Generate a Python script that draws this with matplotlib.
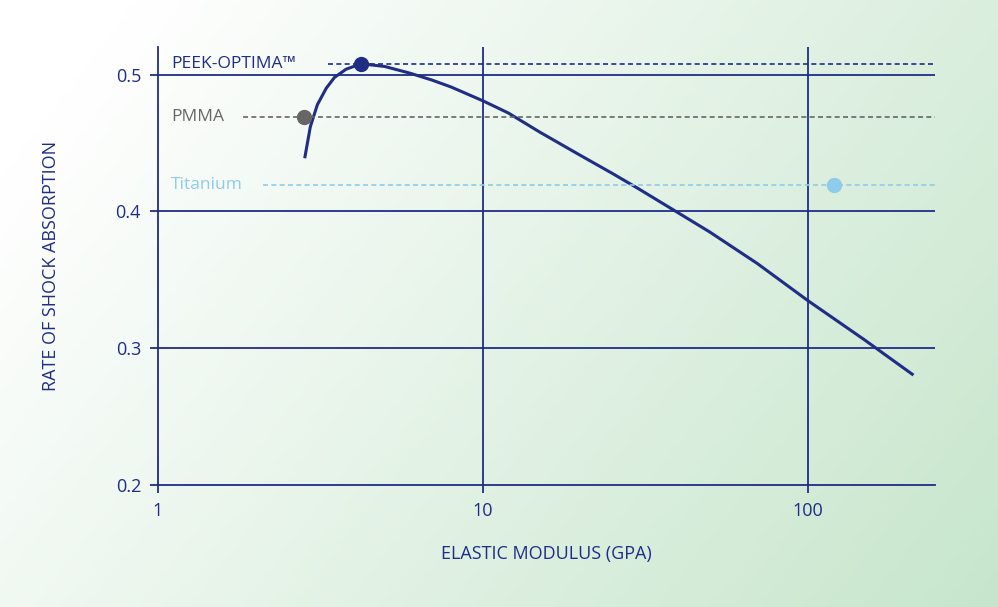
import numpy as np
import matplotlib
matplotlib.use("Agg")
import matplotlib.pyplot as plt

curve_x = [2.84, 2.95, 3.1, 3.3, 3.5, 3.8, 4.23, 5, 6, 7, 8, 10, 12, 15, 20, 25, 30, 40, 50, 70, 100, 150, 210]
curve_y = [0.440, 0.462, 0.478, 0.490, 0.498, 0.504, 0.508, 0.506, 0.501, 0.496, 0.491, 0.481,
           0.472, 0.458, 0.441, 0.428, 0.417, 0.399, 0.385, 0.362, 0.335, 0.306, 0.281]
materials = ["PEEK-OPTIMA™", "PMMA", "Titanium"]
mat_x = [4.23, 2.82, 121]
mat_y = [0.508, 0.469, 0.419]
mat_colors = ["#1f2d86", "#666666", "#8fcbea"]

navy = "#1f2d86"
fig = plt.figure(figsize=(9.98, 6.07), dpi=100)
bg = fig.add_axes([0, 0, 1, 1], zorder=-10)
gx = np.linspace(0, 1, 200)
gy = np.linspace(0, 1, 120)
X, Y = np.meshgrid(gx, gy)
t = np.clip(0.75 * X + 0.35 * Y - 0.1, 0, 1)
c0 = np.array([1.0, 1.0, 1.0]); c1 = np.array([0.78, 0.90, 0.80])
img = c0[None, None, :] * (1 - t[..., None]) + c1[None, None, :] * t[..., None]
bg.imshow(img, aspect="auto", extent=[0, 1, 0, 1], origin="upper")
bg.axis("off")

ax = fig.add_axes([0.158, 0.201, 0.779, 0.721])
ax.patch.set_alpha(0)
ax.set_xscale("log")
ax.set_xlim(1, 247)
ax.set_ylim(0.2, 0.52)
for v in [10, 100]:
    ax.axvline(v, color=navy, lw=1.3)
for v in [0.3, 0.4, 0.5]:
    ax.axhline(v, color=navy, lw=1.3)
ax.plot(curve_x, curve_y, color=navy, lw=2.2)
label_end = [3.35, 1.83, 2.11]
for name, x, y, c, le in zip(materials, mat_x, mat_y, mat_colors, label_end):
    ax.plot([le, 247], [y, y], color=c, lw=1.2, ls=(0, (3, 2)))
    ax.text(1.1, y, name, color=c, fontsize=12.5, va="center", ha="left",
            family="Open Sans")
    ax.plot(x, y, "o", color=c, ms=10, zorder=5)
for s in ["top", "right"]:
    ax.spines[s].set_visible(False)
for s in ["left", "bottom"]:
    ax.spines[s].set_color(navy)
    ax.spines[s].set_linewidth(1.3)
ax.set_xticks([1, 10, 100]); ax.set_xticklabels(["1", "10", "100"])
ax.minorticks_off()
ax.set_yticks([0.2, 0.3, 0.4, 0.5]); ax.set_yticklabels(["0.2", "0.3", "0.4", "0.5"])
ax.tick_params(colors=navy, labelsize=13, length=6, width=1.3, pad=6)
for lbl in ax.get_xticklabels() + ax.get_yticklabels():
    lbl.set_family("Open Sans")
ax.set_xlabel("ELASTIC MODULUS (GPA)", color=navy, fontsize=13, labelpad=18, family="Open Sans")
ax.set_ylabel("RATE OF SHOCK ABSORPTION", color=navy, fontsize=13, labelpad=40, family="Open Sans")
fig.savefig("out.png", dpi=100)
